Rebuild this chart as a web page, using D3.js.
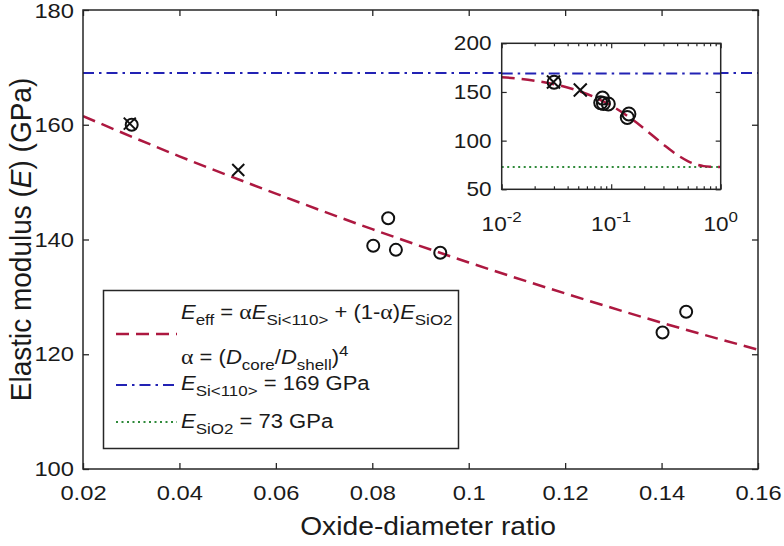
<!DOCTYPE html>
<html><head><meta charset="utf-8">
<script src="https://cdn.jsdelivr.net/npm/d3@7"></script>
<style>
html,body{margin:0;padding:0;background:#fff;}
svg text{font-family:"Liberation Sans",Arial,Helvetica,sans-serif;fill:#1a1a1a;}
</style></head>
<body><svg id="c" width="784" height="546"></svg>
<script>
// ---- data ----
const circleRatio = [0.0301, 0.0802, 0.0833, 0.0849, 0.0941, 0.1402, 0.1451];
const circleE     = [160.0, 138.9, 143.7, 138.2, 137.7, 123.8, 127.4];
const crossRatio  = [0.0297, 0.0522];
const crossE      = [160.2, 152.1];
const fitRatio    = [0.02, 0.04, 0.06, 0.08, 0.10, 0.12, 0.14, 0.16];
const fitE        = [161.5, 154.5, 148.0, 141.8, 136.0, 130.6, 125.5, 120.8];
const insetFitRatio = [0.01, 0.015, 0.02, 0.03, 0.05, 0.07, 0.1, 0.15, 0.2, 0.3, 0.4, 0.5, 0.6, 0.7, 0.8, 0.9, 1.0];
const insetFitE     = [165.2, 163.4, 161.5, 158.0, 151.2, 144.8, 136.0, 123.1, 112.3, 96.0, 85.4, 79.0, 75.5, 73.8, 73.2, 73.0, 73.0];
const E_Si = 169;
const E_SiO2 = 73;
const mainXTicks = [0.02, 0.04, 0.06, 0.08, 0.1, 0.12, 0.14, 0.16];
const mainXLabels = ["0.02", "0.04", "0.06", "0.08", "0.1", "0.12", "0.14", "0.16"];
const mainYTicks = [100, 120, 140, 160, 180];
const insetYTicks = [50, 100, 150, 200];
const insetXTicks = [0.01, 0.1, 1];
const insetXExp = ["-2", "-1", "0"];

const RED = "#ad1840", BLUE = "#2222b4", GREEN = "#2f8a3a", AX = "#262626";
const K = 1.13; // horizontal glyph stretch seen in the reference

const svg = d3.select("#c");
const defs = svg.append("defs");

// ---- main scales ----
const L = 83, R = 758, T = 10, B = 469;
const x = d3.scaleLinear().domain([0.02, 0.16]).range([L, R]);
const y = d3.scaleLinear().domain([100, 180]).range([B, T]);

const main = svg.append("g");
defs.append("clipPath").attr("id", "mclip")
  .append("rect").attr("x", L).attr("y", T).attr("width", R - L).attr("height", B - T);

const plot = main.append("g").attr("clip-path", "url(#mclip)");
plot.append("line").attr("x1", L).attr("x2", R).attr("y1", y(E_Si)).attr("y2", y(E_Si))
  .attr("stroke", BLUE).attr("stroke-width", 2).attr("stroke-dasharray", "11,5,2.5,5");
const fitPts = fitRatio.map((r, i) => [r, fitE[i]]);
plot.append("path").datum(fitPts)
  .attr("d", d3.line().x(d => x(d[0])).y(d => y(d[1])).curve(d3.curveMonotoneX))
  .attr("fill", "none").attr("stroke", RED).attr("stroke-width", 2.5).attr("stroke-dasharray", "13,7");

function drawMarkers(g, xs, ys, cx, cy, r) {
  g.selectAll(null).data(xs.map((v, i) => [v, ys[i]])).enter().append("circle")
    .attr("cx", d => cx(d[0])).attr("cy", d => cy(d[1])).attr("r", r)
    .attr("fill", "none").attr("stroke", "#111").attr("stroke-width", 2);
}
function drawCrosses(g, xs, ys, cx, cy, s) {
  const pts = xs.map((v, i) => [v, ys[i]]);
  g.selectAll(null).data(pts).enter().append("path")
    .attr("d", d => { const X = cx(d[0]), Y = cy(d[1]);
      return `M${X - s},${Y - s}L${X + s},${Y + s}M${X - s},${Y + s}L${X + s},${Y - s}`; })
    .attr("stroke", "#111").attr("stroke-width", 2).attr("fill", "none");
}
drawMarkers(plot, circleRatio, circleE, x, y, 6);
drawCrosses(plot, crossRatio, crossE, x, y, 6);

// axes (inward ticks)
const fs = 21;
main.append("g").attr("transform", `translate(0,${B})`)
  .call(d3.axisBottom(x).tickValues(mainXTicks).tickSizeInner(-6).tickSizeOuter(0).tickPadding(16)
    .tickFormat((d, i) => mainXLabels[i]));
main.append("g").attr("transform", `translate(${L},0)`)
  .call(d3.axisLeft(y).tickValues(mainYTicks).tickSizeInner(-6).tickSizeOuter(0).tickPadding(8).tickFormat(d3.format("d")));
main.append("g").attr("transform", `translate(0,${T})`)
  .call(d3.axisTop(x).tickValues(mainXTicks).tickSizeInner(-6).tickSizeOuter(0).tickFormat(""));
main.append("g").attr("transform", `translate(${R},0)`)
  .call(d3.axisRight(y).tickValues(mainYTicks).tickSizeInner(-6).tickSizeOuter(0).tickFormat(""));
main.selectAll(".domain").remove();
main.selectAll(".tick line").attr("stroke", AX).attr("stroke-width", 1.3);
main.selectAll(".tick text").attr("font-size", fs).attr("fill", "#1a1a1a")
  .style("font-family", '"Liberation Sans",Arial,sans-serif')
  .attr("transform", d => d === 180 ? `translate(0,1) scale(${K},1)` : `scale(${K},1)`);
main.append("rect").attr("x", L).attr("y", T).attr("width", R - L).attr("height", B - T)
  .attr("fill", "none").attr("stroke", AX).attr("stroke-width", 1.5);

// axis titles
svg.append("text").attr("transform", `translate(428,535) scale(${K},1)`).attr("text-anchor", "middle")
  .attr("font-size", 25).text("Oxide-diameter ratio");
const yt = svg.append("text").attr("transform", `translate(31,${(T + B) / 2}) rotate(-90) scale(1,1.08)`)
  .attr("text-anchor", "middle").attr("font-size", 28);
yt.append("tspan").text("Elastic modulus (");
yt.append("tspan").attr("font-style", "italic").text("E");
yt.append("tspan").text(") (GPa)");

// ---- legend ----
const lg = svg.append("g");
lg.append("rect").attr("x", 103.5).attr("y", 290.5).attr("width", 355).attr("height", 158)
  .attr("fill", "#fff").attr("stroke", AX).attr("stroke-width", 1.5);
lg.append("line").attr("x1", 116).attr("x2", 177).attr("y1", 334).attr("y2", 334)
  .attr("stroke", RED).attr("stroke-width", 2.5).attr("stroke-dasharray", "13,7");
lg.append("line").attr("x1", 116).attr("x2", 177).attr("y1", 385).attr("y2", 385)
  .attr("stroke", BLUE).attr("stroke-width", 2).attr("stroke-dasharray", "11,5,2.5,5");
lg.append("line").attr("x1", 116).attr("x2", 177).attr("y1", 422).attr("y2", 422)
  .attr("stroke", GREEN).attr("stroke-width", 2).attr("stroke-dasharray", "2,3.5");

const lfs = 19.5, sfs = 15;
const lgt = lg.append("g").attr("transform", `translate(181,0) scale(${K},1)`);
function addText(yb, parts) {
  const t = lgt.append("text").attr("x", 0).attr("y", yb).attr("font-size", lfs);
  parts.forEach(p => {
    const s = t.append("tspan").text(p.t);
    if (p.i) s.attr("font-style", "italic");
    if (p.g) s.style("font-family", '"Liberation Serif","Times New Roman",serif').attr("font-size", 21);
    if (p.sub) s.attr("font-size", sfs).attr("dy", 6);
    if (p.sup) s.attr("font-size", sfs).attr("dy", -8);
    if (p.back) s.attr("dy", p.back);
  });
}
addText(319, [{t: "E", i: 1}, {t: "eff", sub: 1}, {t: " = ", back: -6}, {t: "α", g: 1}, {t: "E", i: 1},
  {t: "Si<110>", sub: 1}, {t: " + (1-", back: -6}, {t: "α", g: 1}, {t: ")"}, {t: "E", i: 1}, {t: "SiO2", sub: 1}]);
addText(364, [{t: "α", g: 1}, {t: " = ("}, {t: "D", i: 1}, {t: "core", sub: 1}, {t: "/", back: -6}, {t: "D", i: 1},
  {t: "shell", sub: 1}, {t: ")", back: -6}, {t: "4", sup: 1}]);
addText(390, [{t: "E", i: 1}, {t: "Si<110>", sub: 1}, {t: " = 169 GPa", back: -6}]);
addText(428, [{t: "E", i: 1}, {t: "SiO2", sub: 1}, {t: " = 73 GPa", back: -6}]);

// ---- inset ----
const iL = 501.7, iR = 720.7, iT = 43.3, iB = 189.3;
const ix = d3.scaleLog().domain([0.01, 1]).range([iL, iR]);
const iy = d3.scaleLinear().domain([50, 200]).range([iB, iT]);
const ins = svg.append("g");
ins.append("rect").attr("x", iL).attr("y", iT).attr("width", iR - iL).attr("height", iB - iT).attr("fill", "#fff");
defs.append("clipPath").attr("id", "iclip")
  .append("rect").attr("x", iL).attr("y", iT).attr("width", iR - iL).attr("height", iB - iT);
const ip = ins.append("g").attr("clip-path", "url(#iclip)");
ip.append("line").attr("x1", iL).attr("x2", iR).attr("y1", iy(E_SiO2)).attr("y2", iy(E_SiO2))
  .attr("stroke", GREEN).attr("stroke-width", 2).attr("stroke-dasharray", "2,3.5");
ip.append("line").attr("x1", iL).attr("x2", iR).attr("y1", iy(E_Si)).attr("y2", iy(E_Si))
  .attr("stroke", BLUE).attr("stroke-width", 2).attr("stroke-dasharray", "11,5,2.5,5");
ip.append("path").datum(insetFitRatio.map((r, i) => [r, insetFitE[i]]))
  .attr("d", d3.line().x(d => ix(d[0])).y(d => iy(d[1])).curve(d3.curveMonotoneX))
  .attr("fill", "none").attr("stroke", RED).attr("stroke-width", 2.5).attr("stroke-dasharray", "13,7");
drawMarkers(ip, circleRatio, circleE, ix, iy, 6.5);
drawCrosses(ip, crossRatio, crossE, ix, iy, 6.5);

const minor = ix.ticks().filter(v => insetXTicks.indexOf(v) < 0);
const mk = (g) => { g.select(".domain").remove(); g.selectAll(".tick line").attr("stroke", AX).attr("stroke-width", 1.2); };
ins.append("g").attr("transform", `translate(0,${iB})`)
  .call(d3.axisBottom(ix).tickValues(insetXTicks).tickSizeInner(-5).tickSizeOuter(0).tickFormat("")).call(mk);
ins.append("g").attr("transform", `translate(0,${iB})`)
  .call(d3.axisBottom(ix).tickValues(minor).tickSizeInner(-3).tickSizeOuter(0).tickFormat("")).call(mk);
ins.append("g").attr("transform", `translate(0,${iT})`)
  .call(d3.axisTop(ix).tickValues(insetXTicks).tickSizeInner(-5).tickSizeOuter(0).tickFormat("")).call(mk);
ins.append("g").attr("transform", `translate(0,${iT})`)
  .call(d3.axisTop(ix).tickValues(minor).tickSizeInner(-3).tickSizeOuter(0).tickFormat("")).call(mk);
const iyL = ins.append("g").attr("transform", `translate(${iL},0)`)
  .call(d3.axisLeft(iy).tickValues(insetYTicks).tickSizeInner(-5).tickSizeOuter(0).tickPadding(9).tickFormat(d3.format("d"))).call(mk);
iyL.selectAll(".tick text").attr("font-size", 20).attr("fill", "#1a1a1a")
  .style("font-family", '"Liberation Sans",Arial,sans-serif')
  .attr("transform", `scale(${K},1)`);
ins.append("g").attr("transform", `translate(${iR},0)`)
  .call(d3.axisRight(iy).tickValues(insetYTicks).tickSizeInner(-5).tickSizeOuter(0).tickFormat("")).call(mk);
ins.append("rect").attr("x", iL).attr("y", iT).attr("width", iR - iL).attr("height", iB - iT)
  .attr("fill", "none").attr("stroke", AX).attr("stroke-width", 1.5);
// log labels with superscripts
insetXTicks.forEach((v, i) => {
  const t = ins.append("text").attr("transform", `translate(${ix(v)},231) scale(${K},1)`)
    .attr("text-anchor", "middle").attr("font-size", 20);
  t.append("tspan").text("10");
  t.append("tspan").attr("font-size", 15).attr("dy", -9).text(insetXExp[i]);
});
</script></body></html>
